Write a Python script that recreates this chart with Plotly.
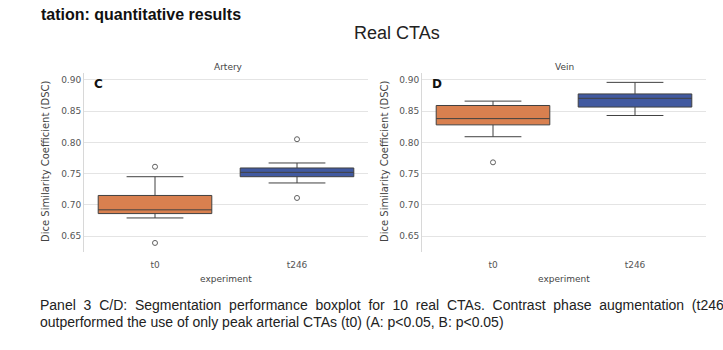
import plotly.graph_objects as go

# ---- data ----
experiments = ["t0", "t246"]
panels = ["Artery", "Vein"]
panel_letters = ["C", "D"]

artery_q1 = [0.686, 0.745]
artery_median = [0.692, 0.752]
artery_q3 = [0.715, 0.759]
artery_low = [0.679, 0.735]
artery_high = [0.745, 0.767]
artery_outliers_t0 = [0.761, 0.639]
artery_outliers_t246 = [0.805, 0.711]

vein_q1 = [0.828, 0.8565]
vein_median = [0.838, 0.8705]
vein_q3 = [0.859, 0.8775]
vein_low = [0.809, 0.843]
vein_high = [0.866, 0.896]
vein_outliers_t0 = [0.768]
vein_outliers_t246 = []

y_ticks = [0.65, 0.70, 0.75, 0.80, 0.85, 0.90]
y_tick_labels = ["0.65", "0.70", "0.75", "0.80", "0.85", "0.90"]

caption_line1 = "Panel 3 C/D: Segmentation performance boxplot for 10 real CTAs. Contrast phase augmentation (t246)"
caption_line2 = "outperformed the use of only peak arterial CTAs (t0) (A: p<0.05, B: p<0.05)"

colors = ["#d9804f", "#4159a0"]

W, H = 723, 350


def py(p):
    return 1 - p / H


def px(p):
    return p / W


def esc(s):
    return s.replace("&", "&amp;").replace("<", "&lt;").replace(">", "&gt;")


fig = go.Figure()

panel_data = [
    (artery_q1, artery_median, artery_q3, artery_low, artery_high,
     [artery_outliers_t0, artery_outliers_t246]),
    (vein_q1, vein_median, vein_q3, vein_low, vein_high,
     [vein_outliers_t0, vein_outliers_t246]),
]

for pi, (q1, med, q3, lo, hi, outs) in enumerate(panel_data):
    xa = "x" if pi == 0 else "x2"
    ya = "y" if pi == 0 else "y2"
    for ei, exp in enumerate(experiments):
        fig.add_trace(go.Box(
            x=[exp], q1=[q1[ei]], median=[med[ei]], q3=[q3[ei]],
            lowerfence=[lo[ei]], upperfence=[hi[ei]],
            fillcolor=colors[ei], line=dict(color="#404040", width=1),
            width=0.8, whiskerwidth=0.5, boxpoints=False,
            xaxis=xa, yaxis=ya, showlegend=False, hoverinfo="skip",
        ))
        if outs[ei]:
            fig.add_trace(go.Scatter(
                x=[exp] * len(outs[ei]), y=outs[ei], mode="markers",
                marker=dict(symbol="circle-open", size=5, color="#606060",
                            line=dict(width=1)),
                xaxis=xa, yaxis=ya, showlegend=False, hoverinfo="skip",
            ))

tickfont = dict(family="DejaVu Sans", size=9, color="#555555")
ydom = [py(252), py(73)]
yrange = [0.6245, 0.911]

common_x = dict(type="category", categoryorder="array", categoryarray=experiments,
                range=[-0.5, 1.5], showgrid=False, zeroline=False,
                showline=False, ticks="", tickfont=tickfont, ticklabelstandoff=6)
common_y = dict(range=yrange, tickvals=y_ticks, ticktext=y_tick_labels,
                showgrid=True, gridcolor="#e4e4e4", gridwidth=1, zeroline=False,
                showline=True, linecolor="#d8d8d8", linewidth=1, ticks="",
                tickfont=tickfont)

fig.update_layout(
    width=W, height=H, autosize=False,
    margin=dict(l=0, r=0, t=0, b=0),
    paper_bgcolor="white", plot_bgcolor="white",
    xaxis=dict(domain=[px(84), px(368)], anchor="y", **common_x),
    yaxis=dict(domain=ydom, anchor="x", **common_y),
    xaxis2=dict(domain=[px(422), px(706)], anchor="y2", **common_x),
    yaxis2=dict(domain=ydom, anchor="x2", **common_y),
)

ann = []
labfont = dict(family="DejaVu Sans", size=9, color="#444444")
# y-axis titles
for xpix in [45, 384]:
    ann.append(dict(text="Dice Similarity Coefficient (DSC)", x=px(xpix), y=py(162),
                    xref="paper", yref="paper", textangle=-90, showarrow=False,
                    font=dict(family="DejaVu Sans", size=10, color="#444444"),
                    xanchor="center", yanchor="middle"))
# x-axis titles
for xc in [226, 564]:
    ann.append(dict(text="experiment", x=px(xc), y=py(279), xref="paper", yref="paper",
                    showarrow=False, font=labfont, xanchor="center", yanchor="middle"))
# panel titles
for xc, t in zip([228, 564], panels):
    ann.append(dict(text=t, x=px(xc), y=py(67), xref="paper", yref="paper",
                    showarrow=False, font=labfont, xanchor="center", yanchor="middle"))
# panel letters
for xc, t in zip([92, 430], panel_letters):
    ann.append(dict(text="<b>%s</b>" % t, x=px(xc), y=py(84), xref="paper", yref="paper",
                    showarrow=False, font=dict(family="DejaVu Sans", size=12, color="#111111"),
                    xanchor="left", yanchor="middle"))
# slide texts
ann.append(dict(text="<b>tation: quantitative results</b>", x=px(243), y=py(15),
                xref="paper", yref="paper", showarrow=False, xanchor="right", yanchor="middle",
                font=dict(family="Liberation Sans", size=16, color="#111111")))
ann.append(dict(text="Real CTAs", x=px(397), y=py(33), xref="paper", yref="paper",
                showarrow=False, xanchor="center", yanchor="middle",
                font=dict(family="Liberation Sans", size=18, color="#222222")))
capfont = dict(family="Liberation Sans", size=14, color="#222222")
# justified first line: widen word gaps (the slide crops it at the right edge)
ann.append(dict(text=esc(caption_line1).replace(" ", " \u00a0"),
                x=px(38), y=py(305), xref="paper", yref="paper", showarrow=False,
                xanchor="left", yanchor="middle", font=capfont))
ann.append(dict(text=esc(caption_line2),
                x=px(38), y=py(322), xref="paper", yref="paper", showarrow=False,
                xanchor="left", yanchor="middle", font=capfont))
fig.update_layout(annotations=ann)

fig.write_html("out.html")
